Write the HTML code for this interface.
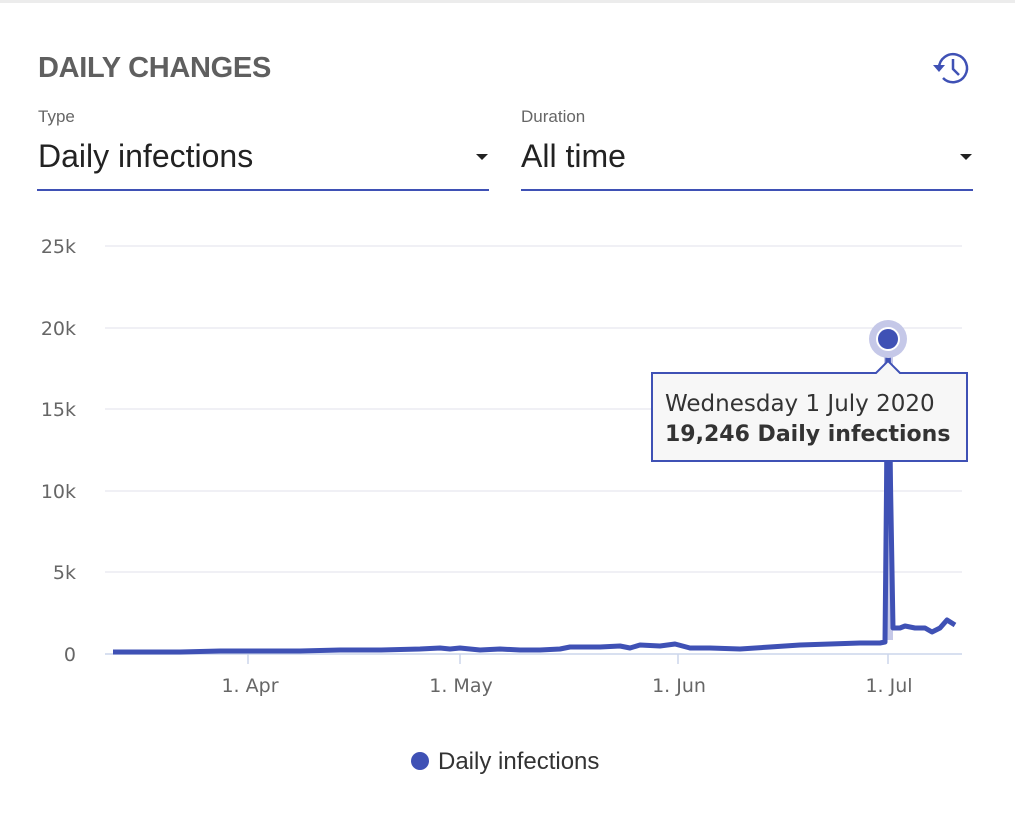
<!DOCTYPE html>
<html><head><meta charset="utf-8"><style>
body{margin:0;width:1015px;height:831px;background:#fff;font-family:"Liberation Sans",sans-serif;overflow:hidden;position:relative}
.top{position:absolute;left:0;top:0;width:1015px;height:3px;background:#ececec}
.t{position:absolute;color:#555;white-space:nowrap}
</style></head><body>
<div class="top"></div>
<div class="t" style="left:38px;top:52px;font-size:29px;font-weight:bold;letter-spacing:-0.3px;color:#5f5f5f">DAILY CHANGES</div>
<svg style="position:absolute;left:930px;top:48px" width="46" height="40" viewBox="0 0 46 40">
<path d="M9 20 A14 14 0 1 1 13 30" fill="none" stroke="#3f51b5" stroke-width="2.5"/>
<polygon points="3,17 15,17 9,24" fill="#3f51b5"/>
<path d="M23 11 V21 L29 27" fill="none" stroke="#3f51b5" stroke-width="2.5"/>
</svg>
<div class="t" style="left:38px;top:107px;font-size:17px;color:#666">Type</div>
<div class="t" style="left:38px;top:138px;font-size:32px;color:#222">Daily infections</div>
<div style="position:absolute;left:476px;top:154px;border:6px solid transparent;border-top:6px solid #222;border-bottom:0"></div>
<div style="position:absolute;left:37px;top:189px;width:452px;height:2px;background:#3f51b5"></div>
<div class="t" style="left:521px;top:107px;font-size:17px;color:#666">Duration</div>
<div class="t" style="left:521px;top:138px;font-size:32px;color:#222">All time</div>
<div style="position:absolute;left:960px;top:154px;border:6px solid transparent;border-top:6px solid #222;border-bottom:0"></div>
<div style="position:absolute;left:521px;top:189px;width:452px;height:2px;background:#3f51b5"></div>
<svg style="position:absolute;left:0;top:0" width="1015" height="831">
<g stroke="#ececf2" stroke-width="1.5">
<line x1="105" x2="962" y1="246" y2="246"/><line x1="105" x2="962" y1="328" y2="328"/>
<line x1="105" x2="962" y1="409" y2="409"/><line x1="105" x2="962" y1="491" y2="491"/>
<line x1="105" x2="962" y1="572" y2="572"/></g>
<line x1="105" x2="962" y1="654" y2="654" stroke="#ccd6eb" stroke-width="1.5"/>
<g stroke="#ccd6eb" stroke-width="1.5"><line x1="248" x2="248" y1="654" y2="664"/><line x1="460" x2="460" y1="654" y2="664"/><line x1="678" x2="678" y1="654" y2="664"/><line x1="888" x2="888" y1="654" y2="664"/></g>
<g font-family="DejaVu Sans,sans-serif" font-size="19" fill="#666" text-anchor="end">
<text x="76" y="253">25k</text><text x="76" y="335">20k</text><text x="76" y="416">15k</text><text x="76" y="498">10k</text><text x="76" y="579">5k</text><text x="76" y="661">0</text></g>
<g font-family="DejaVu Sans,sans-serif" font-size="19" fill="#666" text-anchor="middle">
<text x="250" y="692">1. Apr</text><text x="461" y="692">1. May</text><text x="679" y="692">1. Jun</text><text x="889" y="692">1. Jul</text></g>
<rect x="884" y="340" width="9" height="300" fill="#c5c8e8"/>
<polyline fill="none" stroke="#3f51b5" stroke-width="5" stroke-linejoin="round" points="113,652 180,652 220,651 260,651 300,651 340,650 380,650 420,649 440,648 450,649 460,648 480,650 500,649 520,650 540,650 560,649 570,647 580,647 600,647 620,646 630,648 640,645 660,646 675,644 690,648 710,648 740,649 770,647 800,645 830,644 860,643 880,643 885,642 888,340 893,628 900,628 905,626 915,628 925,628 932,632 940,628 947,620 955,625"/>
<circle cx="888" cy="339" r="19" fill="#c5c8e8"/>
<circle cx="888" cy="339" r="12" fill="#fff"/>
<circle cx="888" cy="339" r="10" fill="#3f51b5"/>
<path d="M652 373 H876 L888 361 L900 373 H967 V461 H652 Z" fill="#f7f7f7" stroke="#3f51b5" stroke-width="2"/>
<g font-family="DejaVu Sans,sans-serif" fill="#333">
<text x="665" y="411" font-size="23">Wednesday 1 July 2020</text>
<text x="665" y="441" font-size="22" font-weight="bold">19,246 Daily infections</text></g>
<circle cx="420" cy="761" r="9" fill="#3f51b5"/>
<text x="438" y="769" font-family="Liberation Sans,sans-serif" font-size="24" fill="#333">Daily infections</text>
</svg>
</body></html>
